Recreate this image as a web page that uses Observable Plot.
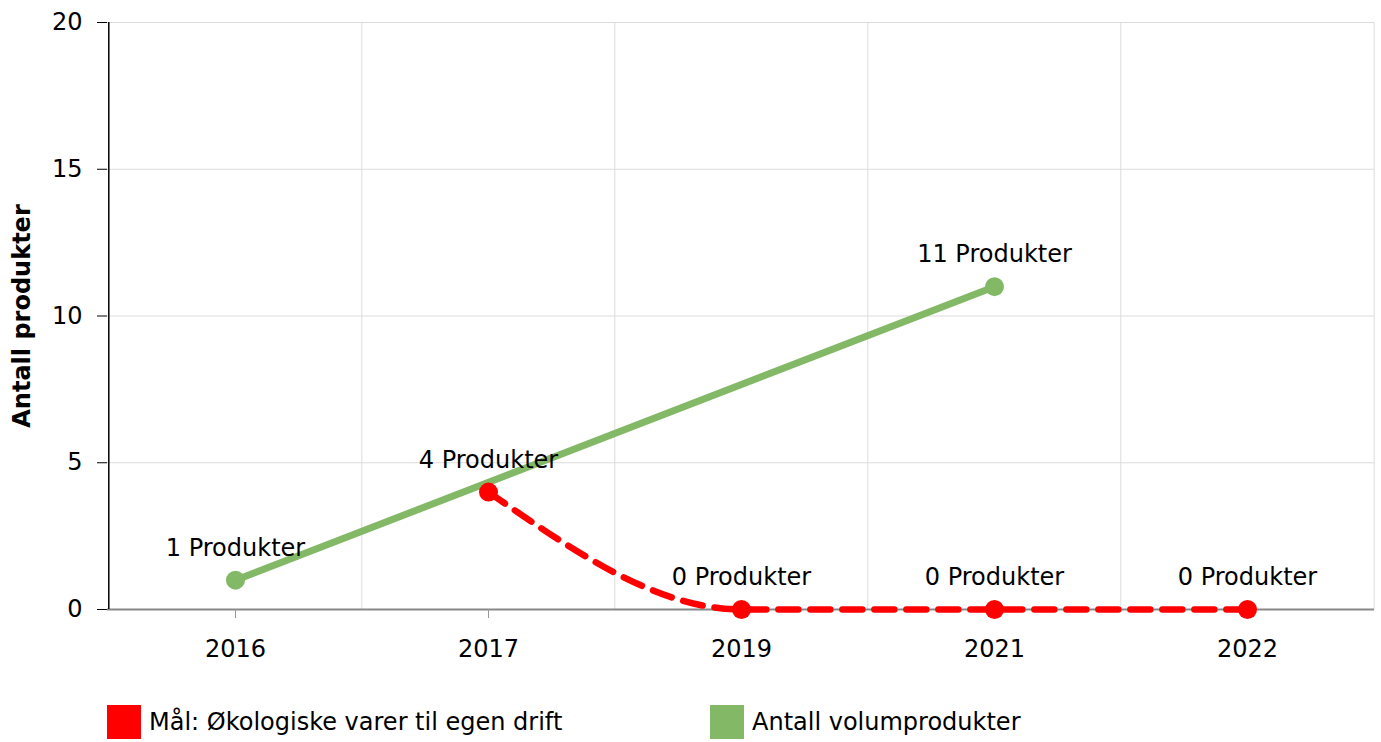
<!DOCTYPE html>
<html>
<head>
<meta charset="utf-8">
<script src="https://cdn.jsdelivr.net/npm/d3@7"></script>
<script src="https://cdn.jsdelivr.net/npm/@observablehq/plot@0.6"></script>
<style>
  html, body { margin: 0; padding: 0; background: #fff; }
  body { font-family: "DejaVu Sans", Verdana, sans-serif; }
  #legend { position: relative; height: 37px; margin-top: 10px; font-size: 24px; color: #000; }
  .item { position: absolute; top: 0; display: flex; align-items: center; height: 34px; }
  .sw { width: 34px; height: 34px; margin-right: 8px; }
</style>
</head>
<body>
<div id="chart"></div>
<div id="legend"></div>
<script>
// ---- data ----
const years = ["2016", "2017", "2019", "2021", "2022"];
const volumprodukter = [1, null, null, 11, null];   // Antall volumprodukter
const maal = [null, 4, 0, 0, 0];                    // Mål: Økologiske varer til egen drift
const yTicks = [0, 5, 10, 15, 20];
const seriesNames = ["Mål: Økologiske varer til egen drift", "Antall volumprodukter"];
const seriesColors = ["#ff0000", "#83b866"];
const yLabel = "Antall produkter";
const unit = "Produkter";

const green = years.map((year, i) => ({year, v: volumprodukter[i]})).filter(d => d.v != null);
const red = years.map((year, i) => ({year, v: maal[i]})).filter(d => d.v != null);

const W = 1381, H = 695, mL = 107, mR = 7, mT = 22, mB = 86;
const step = (W - mL - mR) / years.length;
const grid = "#dcdcdc";
const font = "DejaVu Sans";

const chart = Plot.plot({
  width: W, height: H,
  marginLeft: mL, marginRight: mR, marginTop: mT, marginBottom: mB,
  style: {fontFamily: font, fontSize: "24px", background: "#fff", color: "#000"},
  x: {type: "point", domain: years, padding: 0.5},
  y: {domain: [0, 20]},
  marks: [
    Plot.gridY({ticks: yTicks.filter(d => d > 0), stroke: grid, strokeOpacity: 1}),
    Plot.ruleX(years.slice(1), {dx: -step / 2, stroke: grid}),
    Plot.ruleX([years[years.length - 1]], {dx: step / 2, stroke: grid}),
    Plot.ruleY([0], {stroke: "#888", strokeWidth: 2}),
    Plot.ruleX([years[0]], {dx: -step / 2, stroke: "#000", strokeWidth: 1.5}),
    Plot.axisY({ticks: yTicks, tickSize: 10, tickPadding: 15, fontSize: 24, label: null, stroke: "#000"}),
    Plot.axisX({tickSize: 9, tickPadding: 21, fontSize: 24, label: null, stroke: "#999"}),
    Plot.text([yLabel], {frameAnchor: "left", textAnchor: "middle", rotate: -90, dx: -85, fontWeight: "bold", fontSize: 24, fill: "#000"}),
    Plot.line(green, {x: "year", y: "v", stroke: seriesColors[1], strokeWidth: 7}),
    Plot.dot(green, {x: "year", y: "v", r: 9.5, fill: seriesColors[1]}),
    Plot.line(red, {x: "year", y: "v", stroke: seriesColors[0], strokeWidth: 6.5, strokeDasharray: "20,12", curve: "monotone-x"}),
    Plot.dot(red, {x: "year", y: "v", r: 9.5, fill: seriesColors[0]}),
    Plot.text(green, {x: "year", y: "v", text: d => `${d.v} ${unit}`, dy: -32, fontSize: 24, fill: "#000"}),
    Plot.text(red, {x: "year", y: "v", text: d => `${d.v} ${unit}`, dy: -32, fontSize: 24, fill: "#000"})
  ]
});
document.getElementById("chart").appendChild(chart);

const legend = document.getElementById("legend");
const lx = [107, 710];
seriesNames.forEach((name, i) => {
  const it = document.createElement("div");
  it.className = "item";
  it.style.left = lx[i] + "px";
  const sw = document.createElement("span");
  sw.className = "sw";
  sw.style.background = seriesColors[i];
  const t = document.createElement("span");
  t.textContent = name;
  it.appendChild(sw); it.appendChild(t);
  legend.appendChild(it);
});
</script>
</body>
</html>
